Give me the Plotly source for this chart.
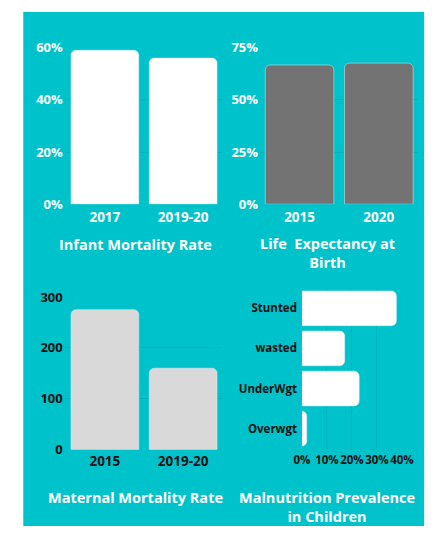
import plotly.graph_objects as go

W, H = 439, 535
TEAL = "#00C2CB"
GRID = "rgba(0,90,100,0.13)"
FONT = "Open Sans"

# Data
infant_years = ["2017", "2019-20"]
infant_vals = [59, 56]

life_years = ["2015", "2020"]
life_vals = [66.7, 67.6]

maternal_years = ["2015", "2019-20"]
maternal_vals = [275, 160]

malnut_cats = ["Stunted", "wasted", "UnderWgt", "Overwgt"]
malnut_vals = [37.8, 17.1, 22.9, 1.9]


def px_x(x):
    return x / W


def px_y(y):
    return 1 - y / H


fig = go.Figure()

fig.add_trace(go.Bar(x=infant_years, y=infant_vals, marker_color="#FFFFFF",
                     xaxis="x", yaxis="y"))
fig.add_trace(go.Bar(x=life_years, y=life_vals, marker_color="#737373",
                     xaxis="x2", yaxis="y2"))
fig.add_trace(go.Bar(x=maternal_years, y=maternal_vals, marker_color="#D9D9D9",
                     xaxis="x3", yaxis="y3"))
fig.add_trace(go.Bar(x=malnut_vals, y=malnut_cats, orientation="h",
                     marker_color="#FFFFFF", xaxis="x4", yaxis="y4"))

xt_white = dict(family=FONT, size=13.5, color="#FFFFFF", weight="bold")
yt_white = dict(family=FONT, size=13, color="#FFFFFF", weight="bold")
xt_black = dict(family=FONT, size=13.5, color="#111111", weight="bold")
yt_black = dict(family=FONT, size=13, color="#111111", weight="bold")
t_black_s = dict(family=FONT, size=11.5, color="#111111", weight="bold")

common_cat = dict(showgrid=False, zeroline=False, showline=False, ticks="",
                  fixedrange=True)
common_val = dict(showgrid=True, gridcolor=GRID, gridwidth=1, zeroline=False,
                  showline=False, ticks="", fixedrange=True)

fig.update_layout(
    width=W, height=H,
    margin=dict(l=0, r=0, t=0, b=0),
    paper_bgcolor="#FFFFFF",
    plot_bgcolor="rgba(0,0,0,0)",
    showlegend=False,
    hovermode=False,
    bargap=0.134,
    barcornerradius=5,
    xaxis=dict(domain=[px_x(60.5), px_x(224.5)], anchor="y",
               tickfont=xt_white, ticklabelstandoff=3, **common_cat),
    yaxis=dict(domain=[px_y(202), px_y(40)], anchor="x", range=[0, 60],
               tickvals=[0, 20, 40, 60], ticktext=["0%", "20%", "40%", "60%"],
               tickfont=yt_white, ticklabelstandoff=2, **common_val),
    xaxis2=dict(domain=[px_x(264), px_x(430)], anchor="y2",
                tickfont=xt_white, ticklabelstandoff=3, **common_cat),
    yaxis2=dict(domain=[px_y(202), px_y(40)], anchor="x2", range=[0, 75],
                tickvals=[0, 25, 50, 75], ticktext=["0%", "25%", "50%", "75%"],
                tickfont=yt_white, ticklabelstandoff=1, **common_val),
    xaxis3=dict(domain=[px_x(60.5), px_x(224.5)], anchor="y3",
                tickfont=xt_black, ticklabelstandoff=2, **common_cat),
    yaxis3=dict(domain=[px_y(456), px_y(298)], anchor="x3", range=[0, 300],
                tickvals=[0, 100, 200, 300],
                tickfont=yt_black, ticklabelstandoff=2, **common_val),
    xaxis4=dict(domain=[px_x(308), px_x(412.7)], anchor="y4", range=[0, 40],
                tickvals=[0, 10, 20, 30, 40],
                ticktext=["0%", "10%", "20%", "30%", "40%"],
                tickangle=0, ticklabelstandoff=3,
                tickfont=t_black_s, **common_val),
    yaxis4=dict(domain=[px_y(455), px_y(289)], anchor="x4",
                categoryorder="array", categoryarray=malnut_cats[::-1],
                tickfont=t_black_s, ticklabelstandoff=4, **common_cat),
    shapes=[dict(type="rect", xref="paper", yref="paper",
                 x0=px_x(16), x1=px_x(436), y0=0, y1=px_y(3),
                 fillcolor=TEAL, line=dict(width=0), layer="below")],
)

title_font = dict(family=FONT, size=14.5, color="#FFFFFF", weight="bold")
titles = [
    ("Infant Mortality Rate", 134, 244),
    ("Life\u00a0 Expectancy at<br>Birth", 335, 253),
    ("Maternal Mortality Rate", 134, 506),
    ("Malnutrition Prevalence<br>in Children", 334, 515),
]
for text, cx, cy in titles:
    fig.add_annotation(text=text, x=px_x(cx), y=px_y(cy), xref="paper",
                       yref="paper", showarrow=False, xanchor="center",
                       yanchor="middle", font=title_font, align="center")

fig.write_html(
    "out.html",
    config={"displayModeBar": False},
    post_script=(
        "document.body.style.margin='0';"
        "document.body.style.padding='0';"
        "document.documentElement.style.overflow='hidden';"
        "var d=document.getElementById('{plot_id}');"
        "d.style.position='fixed';d.style.left='0px';d.style.top='0px';"
    ),
)
